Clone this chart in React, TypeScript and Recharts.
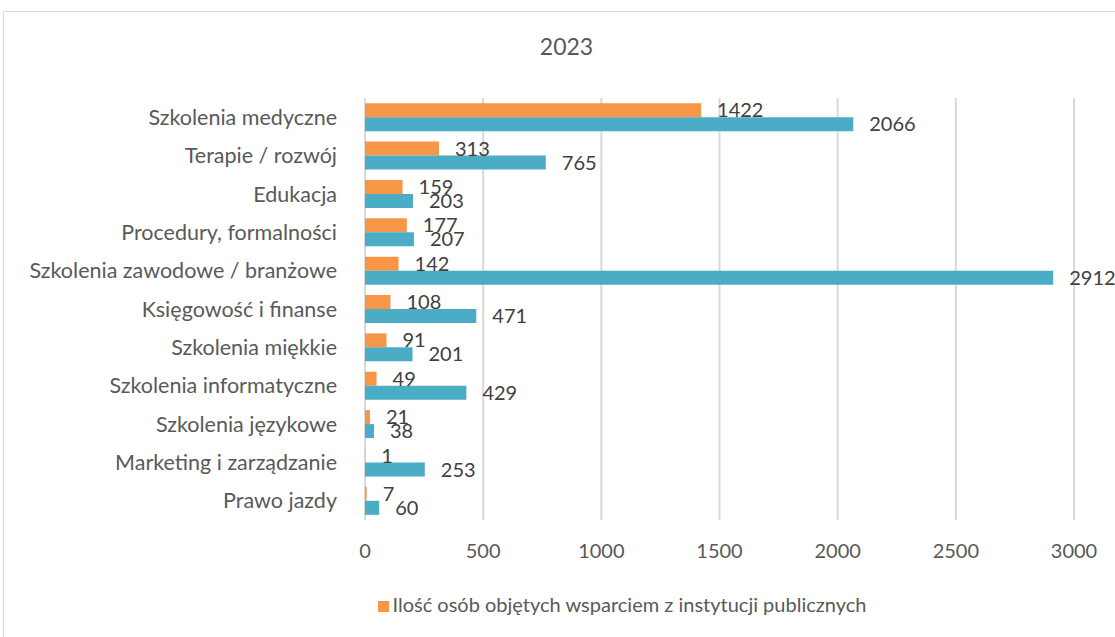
import React from "react";
import {
  BarChart,
  Bar,
  XAxis,
  YAxis,
  CartesianGrid,
  Legend,
  LabelList,
} from "recharts";

const categories = [
  "Szkolenia medyczne",
  "Terapie / rozwój",
  "Edukacja",
  "Procedury, formalności",
  "Szkolenia zawodowe / branżowe",
  "Księgowość i finanse",
  "Szkolenia miękkie",
  "Szkolenia informatyczne",
  "Szkolenia językowe",
  "Marketing i zarządzanie",
  "Prawo jazdy",
];
const publicValues = [1422, 313, 159, 177, 142, 108, 91, 49, 21, 1, 7];
const otherValues = [2066, 765, 203, 207, 2912, 471, 201, 429, 38, 253, 60];
const xTicks = [0, 500, 1000, 1500, 2000, 2500, 3000];

const publicName = "Ilość osób objętych wsparciem z instytucji publicznych";
const otherName = "Seria 2";
const title = "2023";

const data = categories.map((c, i) => ({
  name: c,
  pub: publicValues[i],
  other: otherValues[i],
}));

const FONT = "Lato, 'Open Sans', sans-serif";

export default function App() {
  return (
    <div
      style={{
        position: "absolute",
        left: 0,
        top: 0,
        width: 1115,
        height: 637,
        overflow: "hidden",
        background: "#fff",
        fontFamily: FONT,
      }}
    >
      <div
        style={{
          position: "absolute",
          left: 3,
          top: 11,
          width: 1130,
          height: 650,
          border: "1px solid #D9D9D9",
          boxSizing: "border-box",
        }}
      />
      <div
        style={{
          position: "absolute",
          left: 0,
          width: 1115,
          top: 32,
          textAlign: "center",
          paddingLeft: 18,
          boxSizing: "border-box",
          fontSize: 23,
          lineHeight: "28px",
          color: "#595959",
          fontFamily: FONT,
        }}
      >
        {title}
      </div>
      <div style={{ position: "absolute", left: 0, top: 0 }}>
        <BarChart
          width={1115}
          height={637}
          data={data}
          layout="vertical"
          margin={{ top: 98, right: 41, bottom: 87, left: 0 }}
          barCategoryGap="13.5%"
          barGap={0}
        >
          <CartesianGrid
            horizontal={false}
            vertical={true}
            stroke="#D9D9D9"
            strokeWidth={2}
          />
          <XAxis
            type="number"
            domain={[0, 3000]}
            ticks={xTicks}
            height={30}
            axisLine={false}
            tickLine={false}
            tickSize={0}
            tickMargin={24}
            interval={0}
            tick={{ fill: "#595959", fontSize: 20, fontFamily: FONT }}
          />
          <YAxis
            type="category"
            dataKey="name"
            width={365}
            axisLine={false}
            tickLine={false}
            tickSize={0}
            tickMargin={28}
            interval={0}
            tick={{ fill: "#595959", fontSize: 21.5, fontFamily: FONT }}
          />
          <Legend
            verticalAlign="middle"
            align="center"
            layout="horizontal"
            iconType="square"
            iconSize={11}
            wrapperStyle={{
              top: 592,
              left: 327,
              width: 600,
              fontSize: 20,
              fontFamily: FONT,
              color: "#595959",
            }}
            formatter={(v: string) => (
              <span style={{ color: "#595959" }}>{v}</span>
            )}
          />
          <Bar
            dataKey="pub"
            name={publicName}
            fill="#F79646"
            isAnimationActive={false}
          >
            <LabelList
              dataKey="pub"
              position="right"
              offset={16}
              fill="#404040"
              fontSize={20}
              fontFamily={FONT}
            />
          </Bar>
          <Bar
            dataKey="other"
            name={otherName}
            fill="#4BACC6"
            legendType="none"
            isAnimationActive={false}
          >
            <LabelList
              dataKey="other"
              position="right"
              offset={16}
              fill="#404040"
              fontSize={20}
              fontFamily={FONT}
            />
          </Bar>
        </BarChart>
      </div>
    </div>
  );
}
